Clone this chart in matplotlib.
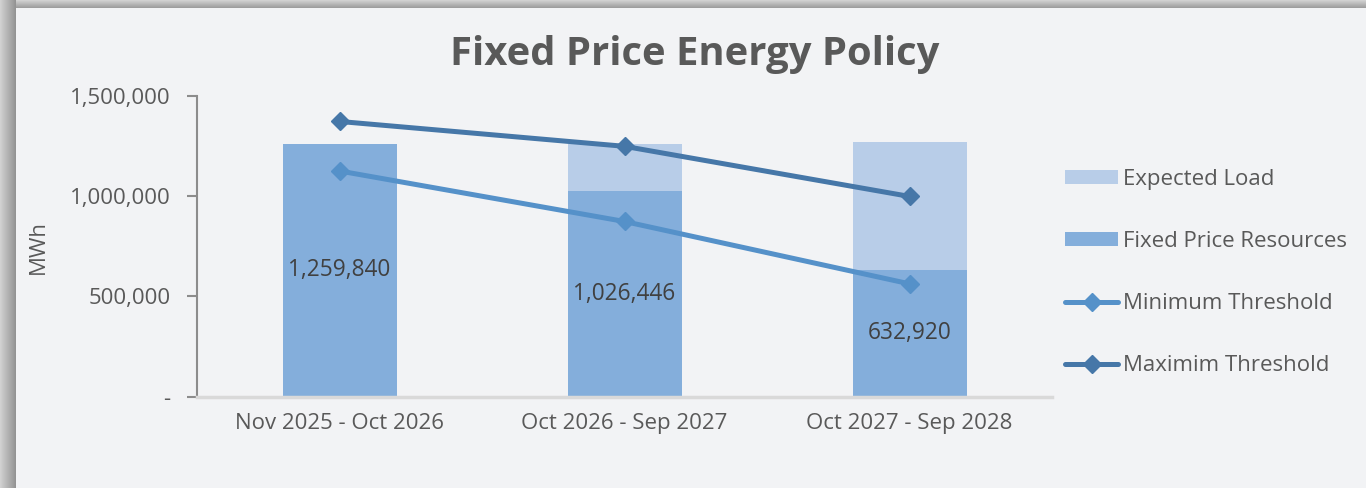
import numpy as np
import matplotlib
matplotlib.use("Agg")
import matplotlib.pyplot as plt
from matplotlib.ticker import FuncFormatter

# ---- data ----
categories = ["Nov 2025 - Oct 2026", "Oct 2026 - Sep 2027", "Oct 2027 - Sep 2028"]
fixed_price_resources = [1259840, 1026446, 632920]
expected_load_extra = [0, 232000, 640000]          # stacked on top of fixed resources
minimum_threshold = [1126000, 874000, 563000]
maximim_threshold = [1373000, 1249000, 999000]
y_ticks = [0, 500000, 1000000, 1500000]

# ---- style ----
BG = "#F2F3F5"
C_FIXED = "#84AEDB"
C_LOAD = "#B8CDE8"
C_MIN = "#5591C9"
C_MAX = "#4677A8"
TXT = "#595959"
FONT = "Open Sans"
FS = 16

W, H = 1366, 488
fig = plt.figure(figsize=(W / 100, H / 100), dpi=100, facecolor=BG)

# shadow frame (left & top)
bg_ax = fig.add_axes([0, 0, 1, 1], zorder=-10)
img = np.ones((H, W, 3)) * np.array([0xF2, 0xF3, 0xF5]) / 255.0
left_w, top_h = 16, 8
for xx in range(left_w):
    t = xx / (left_w - 1)
    img[:, xx, :] = 0.82 - 0.24 * t
for yy in range(top_h):
    t = yy / (top_h - 1)
    img[yy, left_w:, :] = 0.82 - 0.20 * t
bg_ax.imshow(img, aspect="auto", extent=[0, 1, 0, 1], interpolation="nearest")
bg_ax.set_axis_off()

ax = fig.add_axes([197 / W, 1 - 396.7 / H, (1052 - 197) / W, (396.7 - 96) / H])
ax.set_facecolor("none")

x = np.arange(len(categories))
bw = 0.4
b_fixed = ax.bar(x, fixed_price_resources, width=bw, color=C_FIXED, zorder=2,
                 label="Fixed Price Resources")
b_load = ax.bar(x, expected_load_extra, width=bw, bottom=fixed_price_resources,
                color=C_LOAD, zorder=2, label="Expected Load")
l_min, = ax.plot(x, minimum_threshold, color=C_MIN, lw=3.6, marker="D", ms=9,
                 zorder=3, label="Minimum Threshold", solid_capstyle="round")
l_max, = ax.plot(x, maximim_threshold, color=C_MAX, lw=3.6, marker="D", ms=9,
                 zorder=3, label="Maximim Threshold", solid_capstyle="round")

for xi, v in zip(x, fixed_price_resources):
    ax.text(xi, v / 2, f"{v:,}", ha="center", va="center", fontsize=16.3,
            color="#404040", family=FONT, zorder=4)

ax.set_xlim(-0.5, len(categories) - 0.5)
ax.set_ylim(0, 1500000)
ax.set_yticks(y_ticks)
ax.yaxis.set_major_formatter(FuncFormatter(lambda v, p: "-" if v == 0 else f"{int(v):,}"))
ax.set_xticks(x)
ax.set_xticklabels(categories)

for s in ["top", "right"]:
    ax.spines[s].set_visible(False)
ax.spines["left"].set_color("#8C8C8C")
ax.spines["left"].set_linewidth(1.5)
ax.spines["bottom"].set_color("#D9D9D9")
ax.spines["bottom"].set_linewidth(2.5)
ax.tick_params(axis="y", length=7, width=1.5, color="#8C8C8C", pad=12,
               labelsize=FS, labelcolor=TXT)
ax.tick_params(axis="x", length=0, pad=12, labelsize=FS, labelcolor=TXT)
for lbl in ax.get_xticklabels() + ax.get_yticklabels():
    lbl.set_family(FONT)

fig.text(38 / W, 1 - 247 / H, "MWh", rotation=90, ha="center", va="center",
         fontsize=FS, color=TXT, family=FONT)
fig.text(695 / W, 1 - 54 / H, "Fixed Price Energy Policy", ha="center", va="center",
         fontsize=28.8, fontweight="bold", color=TXT, family=FONT)

leg = fig.legend(handles=[b_load, b_fixed, l_min, l_max],
                 labels=["Expected Load", "Fixed Price Resources",
                         "Minimum Threshold", "Maximim Threshold"],
                 loc="upper left", bbox_to_anchor=(1045 / W, 1 - 149 / H),
                 frameon=False, labelspacing=1.85,
                 handlelength=2.4, handleheight=0.6, handletextpad=0.2,
                 prop={"family": FONT, "size": FS})
for t in leg.get_texts():
    t.set_color(TXT)

fig.savefig("out.png", dpi=100, facecolor=BG)
